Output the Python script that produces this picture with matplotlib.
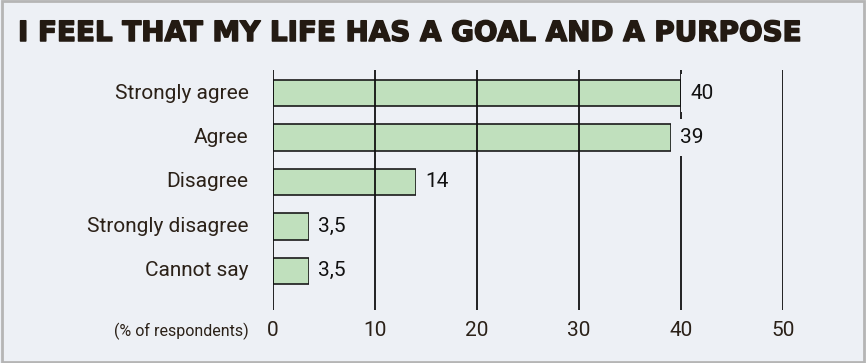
import matplotlib.pyplot as plt
import matplotlib.patheffects as pe
from matplotlib.patches import Rectangle

categories = ['Strongly agree', 'Agree', 'Disagree', 'Strongly disagree', 'Cannot say']
values = [40, 39, 14, 3.5, 3.5]
value_labels = ['40', '39', '14', '3,5', '3,5']
ticks = [0, 10, 20, 30, 40, 50]

bg = '#edf0f5'
ink = '#2b2118'

fig = plt.figure(figsize=(8.66, 3.63), dpi=100, facecolor=bg)
ax = fig.add_axes([273 / 866, 1 - 310 / 363, 510 / 866, 240 / 363])
ax.set_facecolor(bg)

# bars first, grid lines over them
ypos = list(range(len(categories)))
ax.barh(ypos, values, height=0.6, color='#c0e0bd', edgecolor='#1a1a1a',
        linewidth=1.2, zorder=2)
for t in ticks:
    ax.axvline(t, color='#111111', linewidth=1.3, zorder=3)

for y, v, lab in zip(ypos, values, value_labels):
    ax.text(v + 0.9, y, lab, va='center', ha='left', fontsize=15,
            family='Roboto', color='#111111', zorder=4,
            bbox=dict(boxstyle='square,pad=0.45', facecolor=bg, edgecolor='none'))

ax.set_xlim(0, 50)
ax.set_ylim(4.88, -0.52)
ax.set_xticks([])
ax.set_yticks([])
for s in ax.spines.values():
    s.set_visible(False)

# category names and scale labels
for y, c in zip(ypos, categories):
    ax.text(-2.4, y, c, ha='right', va='center', fontsize=15,
            family='Roboto', color=ink)
for t in ticks:
    ax.text(t, 5.35, str(t), ha='center', va='center', fontsize=15,
            family='Roboto', color=ink)
ax.text(-2.4, 5.35, '(% of respondents)', ha='right', va='center',
        fontsize=11.5, family='Roboto', color=ink)

title = fig.text(18 / 866, 1 - 33 / 363, 'I FEEL THAT MY LIFE HAS A GOAL AND A PURPOSE',
                 ha='left', va='center', fontsize=20, fontweight='bold',
                 family='DejaVu Sans', color='#231a12')
title.set_path_effects([pe.withStroke(linewidth=1.1, foreground='#231a12')])

fig.patches.append(Rectangle((0.002, 0.004), 0.996, 0.992, transform=fig.transFigure,
                             facecolor='none', edgecolor='#b5b5b5', linewidth=2))

fig.savefig('out.png', dpi=100, facecolor=bg)
